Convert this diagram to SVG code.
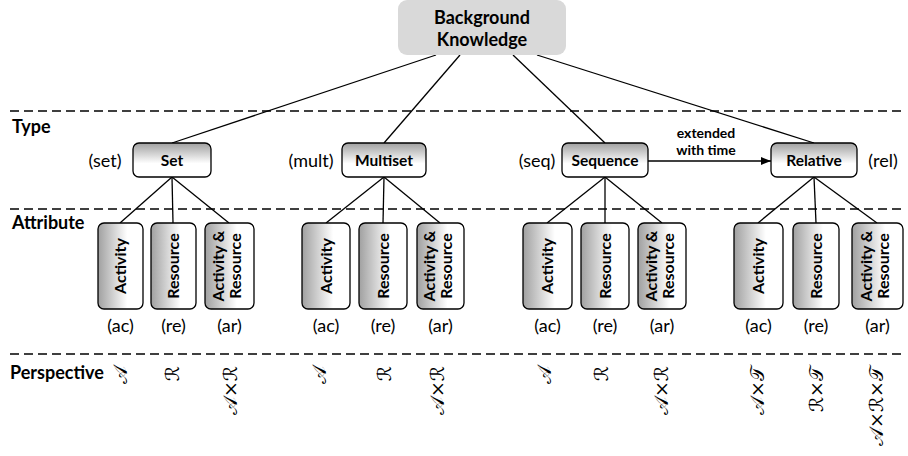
<svg xmlns="http://www.w3.org/2000/svg" width="908" height="456" viewBox="0 0 908 456">
<style>
.lbl{font-family:Lato,"Liberation Sans",sans-serif;font-weight:bold;font-size:18px;fill:#000}
.tn{font-family:Lato,"Liberation Sans",sans-serif;font-weight:bold;font-size:15.5px;fill:#000;text-anchor:middle}
.an{font-family:Lato,"Liberation Sans",sans-serif;font-weight:bold;font-size:16px;fill:#000;text-anchor:middle}
.ab{font-family:Lato,"Liberation Sans",sans-serif;font-size:18px;fill:#000;text-anchor:middle}
.ext{font-family:Lato,"Liberation Sans",sans-serif;font-weight:bold;font-size:14px;fill:#000;text-anchor:middle}
.math{font-family:"DejaVu Serif","DejaVu Sans",serif;font-size:19px;fill:#000;text-anchor:end}
.tbox{fill:url(#gv);stroke:#000;stroke-width:1.3}
.abox{fill:url(#gh);stroke:#000;stroke-width:1.3}
.dash{stroke:#000;stroke-width:1.5;stroke-dasharray:9 5;fill:none}
.ln{stroke:#000;stroke-width:1.3;fill:none}
</style>
<defs>
<linearGradient id="gv" x1="0" y1="0" x2="0" y2="1">
<stop offset="0" stop-color="#a0a0a0"/><stop offset="0.6" stop-color="#ffffff"/><stop offset="1" stop-color="#ffffff"/>
</linearGradient>
<linearGradient id="gh" x1="0" y1="0" x2="1" y2="0">
<stop offset="0" stop-color="#a0a0a0"/><stop offset="0.65" stop-color="#ffffff"/><stop offset="1" stop-color="#ffffff"/>
</linearGradient>
<marker id="arr" markerWidth="10" markerHeight="8" refX="10" refY="4" orient="auto" markerUnits="userSpaceOnUse">
<path d="M0,0 L10,4 L0,8 Z" fill="#000"/>
</marker>
</defs>

<g id="separators">
<line class="dash" x1="10" y1="111" x2="906" y2="111"/>
<line class="dash" x1="10" y1="209" x2="906" y2="209"/>
<line class="dash" x1="10" y1="354" x2="906" y2="354"/>
</g>

<g id="row-labels">
<text class="lbl" x="12" y="133">Type</text>
<text class="lbl" x="12" y="229">Attribute</text>
<text class="lbl" x="10" y="379">Perspective</text>
</g>

<g id="connectors">
<line class="ln" x1="436" y1="55" x2="172" y2="143"/>
<line class="ln" x1="460" y1="55" x2="384" y2="143"/>
<line class="ln" x1="513" y1="55" x2="605" y2="143"/>
<line class="ln" x1="537" y1="55" x2="814" y2="143"/>
<line class="ln" x1="172" y1="177" x2="120" y2="223"/>
<line class="ln" x1="172" y1="177" x2="173" y2="223"/>
<line class="ln" x1="172" y1="177" x2="229" y2="223"/>
<line class="ln" x1="384" y1="177" x2="326" y2="223"/>
<line class="ln" x1="384" y1="177" x2="383" y2="223"/>
<line class="ln" x1="384" y1="177" x2="440" y2="223"/>
<line class="ln" x1="605" y1="177" x2="547" y2="223"/>
<line class="ln" x1="605" y1="177" x2="605" y2="223"/>
<line class="ln" x1="605" y1="177" x2="662" y2="223"/>
<line class="ln" x1="814" y1="177" x2="758" y2="223"/>
<line class="ln" x1="814" y1="177" x2="816" y2="223"/>
<line class="ln" x1="814" y1="177" x2="877" y2="223"/>
<line class="ln" x1="648" y1="161" x2="771" y2="161" marker-end="url(#arr)"/>
<text class="ext" x="706" y="138">extended</text>
<text class="ext" x="706" y="155">with time</text>
</g>

<g id="bk">
<rect x="398" y="0" width="168" height="55" rx="9" fill="#d9d9d9"/>
<text class="lbl" x="482" y="24" text-anchor="middle" font-size="19">Background</text>
<text class="lbl" x="482" y="46" text-anchor="middle" font-size="19">Knowledge</text>
</g>

<g id="set">
<rect class="tbox" x="133" y="143" width="78" height="34" rx="6"/>
<text class="tn" x="172" y="166">Set</text>
<text class="ab" x="105" y="167">(set)</text>
</g>
<g id="multiset">
<rect class="tbox" x="342" y="143" width="84" height="34" rx="6"/>
<text class="tn" x="384" y="166">Multiset</text>
<text class="ab" x="311" y="167">(mult)</text>
</g>
<g id="sequence">
<rect class="tbox" x="562" y="143" width="86" height="34" rx="6"/>
<text class="tn" x="605" y="166">Sequence</text>
<text class="ab" x="537" y="167">(seq)</text>
</g>
<g id="relative">
<rect class="tbox" x="771" y="143" width="86" height="34" rx="6"/>
<text class="tn" x="814" y="166">Relative</text>
<text class="ab" x="883" y="167">(rel)</text>
</g>

<g id="set-ac">
<rect class="abox" x="98" y="223" width="45" height="86" rx="6"/>
<text class="an" transform="translate(126,266) rotate(-90)">Activity</text>
<text class="ab" x="120.5" y="332">(ac)</text>
</g>
<g id="set-re">
<rect class="abox" x="151" y="223" width="45" height="86" rx="6"/>
<text class="an" transform="translate(179,266) rotate(-90)">Resource</text>
<text class="ab" x="173.5" y="332">(re)</text>
</g>
<g id="set-ar">
<rect class="abox" x="205" y="223" width="49" height="86" rx="6"/>
<text class="an" transform="translate(223.5,266) rotate(-90)">Activity &amp;</text>
<text class="an" transform="translate(240.5,266) rotate(-90)">Resource</text>
<text class="ab" x="229.5" y="332">(ar)</text>
</g>

<g id="mult-ac">
<rect class="abox" x="302" y="223" width="48" height="86" rx="6"/>
<text class="an" transform="translate(331.5,266) rotate(-90)">Activity</text>
<text class="ab" x="326" y="332">(ac)</text>
</g>
<g id="mult-re">
<rect class="abox" x="359" y="223" width="48" height="86" rx="6"/>
<text class="an" transform="translate(388.5,266) rotate(-90)">Resource</text>
<text class="ab" x="383" y="332">(re)</text>
</g>
<g id="mult-ar">
<rect class="abox" x="417" y="223" width="47" height="86" rx="6"/>
<text class="an" transform="translate(435,266) rotate(-90)">Activity &amp;</text>
<text class="an" transform="translate(452,266) rotate(-90)">Resource</text>
<text class="ab" x="440.5" y="332">(ar)</text>
</g>

<g id="seq-ac">
<rect class="abox" x="523" y="223" width="49" height="86" rx="6"/>
<text class="an" transform="translate(553,266) rotate(-90)">Activity</text>
<text class="ab" x="547.5" y="332">(ac)</text>
</g>
<g id="seq-re">
<rect class="abox" x="581" y="223" width="48" height="86" rx="6"/>
<text class="an" transform="translate(610.5,266) rotate(-90)">Resource</text>
<text class="ab" x="605" y="332">(re)</text>
</g>
<g id="seq-ar">
<rect class="abox" x="638" y="223" width="48" height="86" rx="6"/>
<text class="an" transform="translate(656.5,266) rotate(-90)">Activity &amp;</text>
<text class="an" transform="translate(673.5,266) rotate(-90)">Resource</text>
<text class="ab" x="662" y="332">(ar)</text>
</g>

<g id="rel-ac">
<rect class="abox" x="734" y="223" width="49" height="86" rx="6"/>
<text class="an" transform="translate(764,266) rotate(-90)">Activity</text>
<text class="ab" x="758.5" y="332">(ac)</text>
</g>
<g id="rel-re">
<rect class="abox" x="793" y="223" width="46" height="86" rx="6"/>
<text class="an" transform="translate(821.5,266) rotate(-90)">Resource</text>
<text class="ab" x="816" y="332">(re)</text>
</g>
<g id="rel-ar">
<rect class="abox" x="852" y="223" width="51" height="86" rx="6"/>
<text class="an" transform="translate(871.5,266) rotate(-90)">Activity &amp;</text>
<text class="an" transform="translate(888.5,266) rotate(-90)">Resource</text>
<text class="ab" x="877.5" y="332">(ar)</text>
</g>

<g id="perspectives">
<text class="math" transform="translate(127,366) rotate(-90)">𝒜</text>
<text class="math" transform="translate(179,366) rotate(-90)">ℛ</text>
<text class="math" transform="translate(237,366) rotate(-90)">𝒜×ℛ</text>
<text class="math" transform="translate(326,366) rotate(-90)">𝒜</text>
<text class="math" transform="translate(391,366) rotate(-90)">ℛ</text>
<text class="math" transform="translate(444,366) rotate(-90)">𝒜×ℛ</text>
<text class="math" transform="translate(551,366) rotate(-90)">𝒜</text>
<text class="math" transform="translate(608,366) rotate(-90)">ℛ</text>
<text class="math" transform="translate(668,366) rotate(-90)">𝒜×ℛ</text>
<text class="math" transform="translate(764,366) rotate(-90)">𝒜×𝒯</text>
<text class="math" transform="translate(823,366) rotate(-90)">ℛ×𝒯</text>
<text class="math" transform="translate(883,366) rotate(-90)">𝒜×ℛ×𝒯</text>
</g>
</svg>
